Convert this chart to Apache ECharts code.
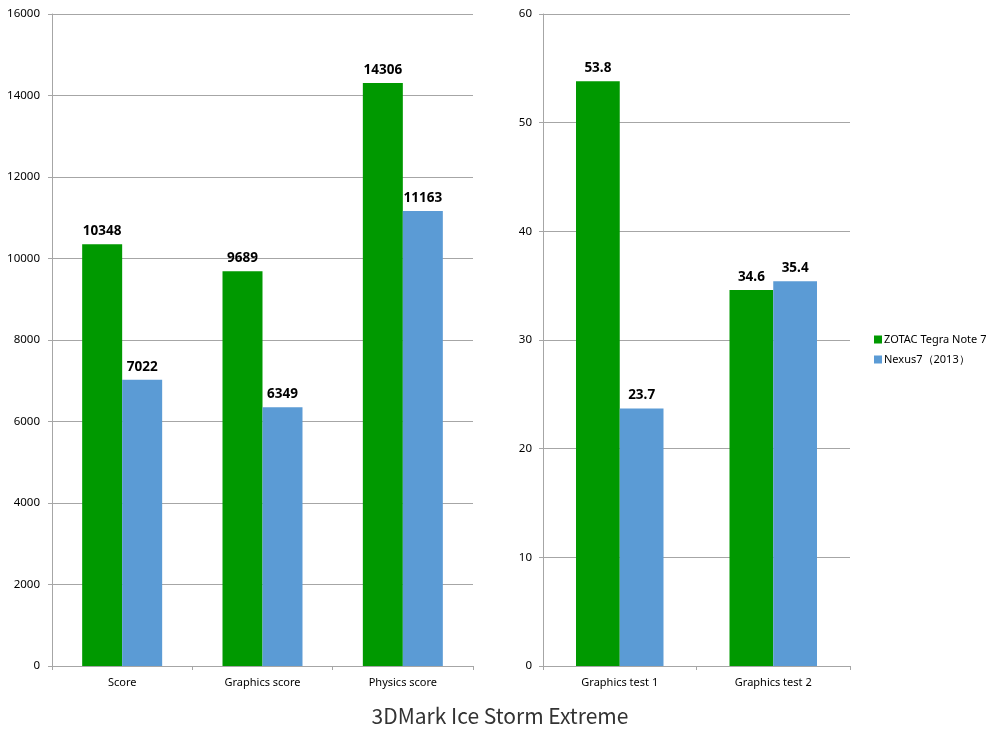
<!DOCTYPE html>
<html><head><meta charset="utf-8">
<script src="https://cdn.jsdelivr.net/npm/echarts@6/dist/echarts.min.js"></script>
<style>html,body{margin:0;padding:0;background:#fff}#c{width:1000px;height:730px}</style>
</head><body><div id="c"></div>
<script>
const seriesNames = ['ZOTAC Tegra Note 7', 'Nexus7（2013）'];
const leftCategories = ['Score', 'Graphics score', 'Physics score'];
const leftZotac = [10348, 9689, 14306];
const leftNexus = [7022, 6349, 11163];
const rightCategories = ['Graphics test 1', 'Graphics test 2'];
const rightZotac = [53.8, 34.6];
const rightNexus = [23.7, 35.4];
const titleText = '3DMark Ice Storm Extreme';

const colors = ['#009900', '#5b9bd5'];
const axisGray = '#a6a6a6';
const font = '"Noto Sans", "Open Sans", sans-serif';

const chart = echarts.init(document.getElementById('c'));
function xAxis(idx, cats) {
  return {
    type: 'category', gridIndex: idx, data: cats,
    axisLine: {lineStyle: {color: axisGray}},
    axisTick: {show: true, length: 4, lineStyle: {color: axisGray}},
    axisLabel: {color: '#000', fontSize: 11, fontFamily: font, margin: 11}
  };
}
function yAxis(idx, max, interval, margin) {
  return {
    type: 'value', gridIndex: idx, min: 0, max: max, interval: interval,
    axisLine: {show: true, lineStyle: {color: axisGray}},
    axisTick: {show: true, length: 4, lineStyle: {color: axisGray}},
    splitLine: {lineStyle: {color: axisGray}},
    axisLabel: {color: '#000', fontSize: 11.5, fontFamily: font, margin: margin,
      formatter: function (v) { return String(v); }}
  };
}
function bar(name, data, idx, color) {
  return {
    name: name, type: 'bar', xAxisIndex: idx, yAxisIndex: idx, data: data,
    barGap: '0%', barCategoryGap: '43%',
    itemStyle: {color: color},
    label: {show: true, position: 'top', distance: 6, color: '#000', fontWeight: 'bold', fontSize: 13.5, fontFamily: font}
  };
}
chart.setOption({
  animation: false,
  title: {text: titleText, left: 'center', top: 701,
    textStyle: {fontSize: 21, fontWeight: 'normal', color: '#333', fontFamily: '"Noto Sans CJK JP", "Noto Sans", sans-serif'}},
  legend: {orient: 'vertical', left: 869, top: 329, itemWidth: 8, itemHeight: 8, itemGap: 9,
    icon: 'rect', data: seriesNames,
    textStyle: {fontSize: 11, color: '#000', fontFamily: font, padding: [0, 0, 0, -3]}},
  grid: [
    {left: 52, top: 14, width: 421, bottom: 64},
    {left: 543, top: 14, width: 307, bottom: 64}
  ],
  xAxis: [xAxis(0, leftCategories), xAxis(1, rightCategories)],
  yAxis: [yAxis(0, 16000, 2000, 12), yAxis(1, 60, 10, 11)],
  series: [
    bar(seriesNames[0], leftZotac, 0, colors[0]),
    bar(seriesNames[1], leftNexus, 0, colors[1]),
    bar(seriesNames[0], rightZotac, 1, colors[0]),
    bar(seriesNames[1], rightNexus, 1, colors[1])
  ]
});
</script></body></html>
